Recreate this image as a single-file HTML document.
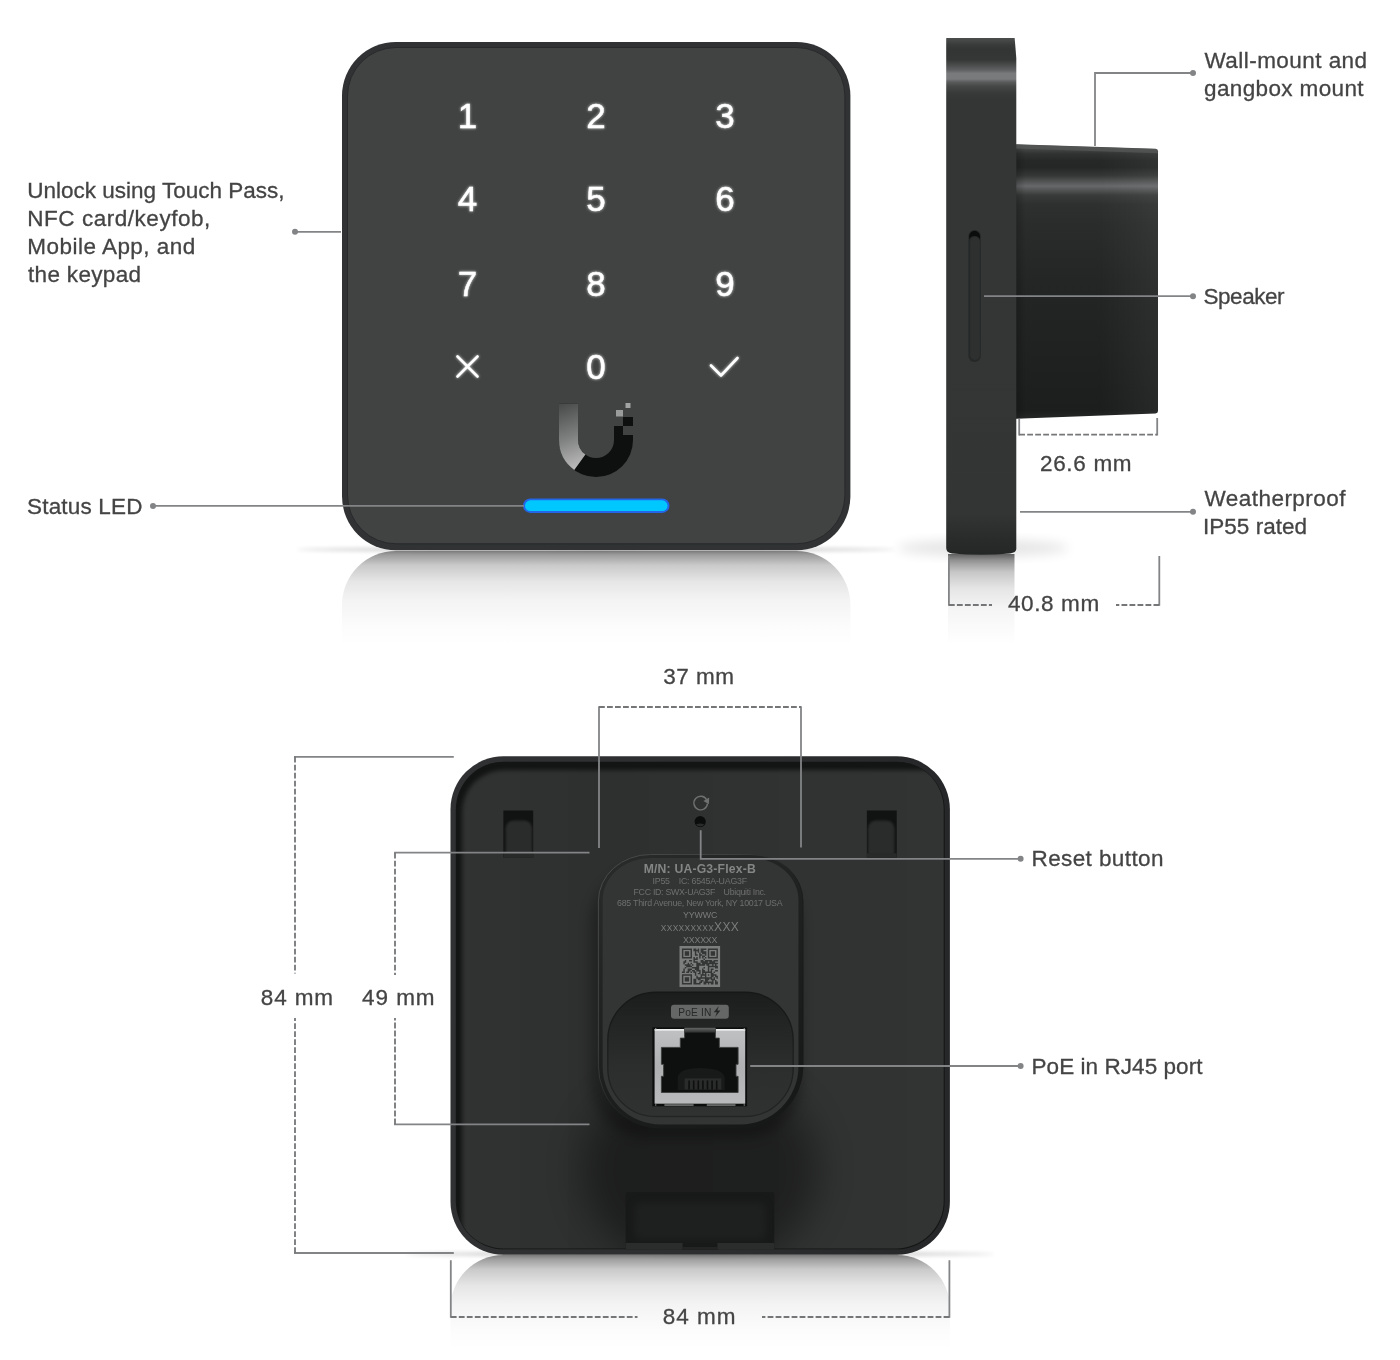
<!DOCTYPE html>
<html lang="en">
<head>
<meta charset="utf-8">
<title>Access Reader G3 Flex – Overview</title>
<style>
html,body{margin:0;padding:0;background:#fff;}
body{width:1400px;height:1360px;overflow:hidden;position:relative;}
svg{display:block;position:absolute;left:0;top:0;}
.t{font-family:"Liberation Sans",Arial,sans-serif;font-size:22.5px;fill:#444;stroke:#444;stroke-width:.3px;}
.d{font-family:"Liberation Sans",Arial,sans-serif;font-size:35px;fill:#fff;text-anchor:middle;stroke:#fff;stroke-width:.45px;}
.ln{stroke:#828486;stroke-width:1.8;fill:none;}
.ds{stroke:#747678;stroke-width:1.8;fill:none;stroke-dasharray:5.8 2.2;}
.dot{fill:#828486;}
.lb{font-family:"Liberation Sans",Arial,sans-serif;font-size:8.8px;fill:#6e6f6f;text-anchor:middle;}
</style>
</head>
<body>
<svg width="1400" height="1360" viewBox="0 0 1400 1360">
<defs>
<filter color-interpolation-filters="sRGB" id="b05" x="-10%" y="-50%" width="120%" height="200%"><feGaussianBlur stdDeviation=".7"/></filter>
<filter color-interpolation-filters="sRGB" id="b1" x="-20%" y="-50%" width="140%" height="200%"><feGaussianBlur stdDeviation="1"/></filter>
<filter color-interpolation-filters="sRGB" id="b2" x="-20%" y="-400%" width="140%" height="900%"><feGaussianBlur stdDeviation="2"/></filter>
<filter color-interpolation-filters="sRGB" id="b3" x="-30%" y="-30%" width="160%" height="160%"><feGaussianBlur stdDeviation="3"/></filter>
<filter color-interpolation-filters="sRGB" id="b6" x="-40%" y="-40%" width="180%" height="180%"><feGaussianBlur stdDeviation="6"/></filter>
<filter color-interpolation-filters="sRGB" id="b12" x="-50%" y="-50%" width="200%" height="200%"><feGaussianBlur stdDeviation="12"/></filter>
<filter color-interpolation-filters="sRGB" id="bp" x="-5%" y="-5%" width="110%" height="110%"><feGaussianBlur stdDeviation="2.2"/></filter>
<filter color-interpolation-filters="sRGB" id="b18" x="-60%" y="-60%" width="220%" height="220%"><feGaussianBlur stdDeviation="18"/></filter>
<filter color-interpolation-filters="sRGB" id="glow" x="-10%" y="-10%" width="120%" height="120%"><feGaussianBlur stdDeviation="1.6" result="g"/><feComponentTransfer in="g" result="g2"><feFuncA type="linear" slope=".75"/></feComponentTransfer><feMerge><feMergeNode in="g2"/><feMergeNode in="SourceGraphic"/></feMerge></filter>
<linearGradient id="reflF" gradientUnits="userSpaceOnUse" x1="0" y1="551" x2="0" y2="646">
<stop offset="0" stop-color="#000" stop-opacity=".46"/><stop offset=".05" stop-color="#000" stop-opacity=".37"/><stop offset=".15" stop-color="#000" stop-opacity=".21"/><stop offset=".32" stop-color="#000" stop-opacity=".1"/><stop offset=".52" stop-color="#000" stop-opacity=".045"/><stop offset=".8" stop-color="#000" stop-opacity=".012"/><stop offset="1" stop-color="#000" stop-opacity="0"/>
</linearGradient>
<linearGradient id="uarm" gradientUnits="userSpaceOnUse" x1="560" y1="405" x2="584" y2="466">
<stop offset="0" stop-color="#4a4b4b"/><stop offset=".5" stop-color="#7d7e7e"/><stop offset="1" stop-color="#bdbdbd"/>
</linearGradient>
<linearGradient id="reflS" gradientUnits="userSpaceOnUse" x1="0" y1="554" x2="0" y2="645">
<stop offset="0" stop-color="#000" stop-opacity=".6"/><stop offset=".07" stop-color="#000" stop-opacity=".42"/><stop offset=".2" stop-color="#000" stop-opacity=".22"/><stop offset=".38" stop-color="#000" stop-opacity=".1"/><stop offset=".6" stop-color="#000" stop-opacity=".04"/><stop offset="1" stop-color="#000" stop-opacity="0"/>
</linearGradient>
<linearGradient id="slabV" gradientUnits="userSpaceOnUse" x1="0" y1="38" x2="0" y2="555">
<stop offset="0" stop-color="#4c4e4e"/><stop offset=".006" stop-color="#444646"/><stop offset=".013" stop-color="#393b3b"/><stop offset=".022" stop-color="#333535"/><stop offset=".042" stop-color="#353737"/><stop offset=".054" stop-color="#4e5050"/><stop offset=".062" stop-color="#5e6062"/><stop offset=".0687" stop-color="#787a7c"/><stop offset=".0793" stop-color="#787a7c"/><stop offset=".085" stop-color="#5a5c5c"/><stop offset=".093" stop-color="#464848"/><stop offset=".106" stop-color="#383a3a"/><stop offset=".12" stop-color="#343636"/><stop offset=".5" stop-color="#343636"/><stop offset=".92" stop-color="#333535"/><stop offset=".96" stop-color="#2b2d2d"/><stop offset="1" stop-color="#252727"/>
</linearGradient>
<linearGradient id="mntV" gradientUnits="userSpaceOnUse" x1="0" y1="144" x2="0" y2="419">
<stop offset="0" stop-color="#525353"/><stop offset=".015" stop-color="#484949"/><stop offset=".035" stop-color="#313232"/><stop offset=".06" stop-color="#262727"/><stop offset=".085" stop-color="#252626"/><stop offset=".115" stop-color="#353636"/><stop offset=".135" stop-color="#505151"/><stop offset=".153" stop-color="#66686a"/><stop offset=".168" stop-color="#525353"/><stop offset=".186" stop-color="#393a3a"/><stop offset=".22" stop-color="#2e2f2f"/><stop offset=".3" stop-color="#2a2b2b"/><stop offset=".5" stop-color="#242525"/><stop offset=".8" stop-color="#1f2020"/><stop offset=".97" stop-color="#1c1d1d"/><stop offset="1" stop-color="#262727"/>
</linearGradient>
<linearGradient id="mntH" gradientUnits="userSpaceOnUse" x1="1014" y1="0" x2="1158" y2="0">
<stop offset="0" stop-color="#000" stop-opacity=".25"/><stop offset=".08" stop-color="#000" stop-opacity="0"/><stop offset=".6" stop-color="#fff" stop-opacity="0"/><stop offset="1" stop-color="#fff" stop-opacity=".05"/>
</linearGradient>
<linearGradient id="reflB" gradientUnits="userSpaceOnUse" x1="0" y1="1255" x2="0" y2="1350">
<stop offset="0" stop-color="#000" stop-opacity=".46"/><stop offset=".05" stop-color="#000" stop-opacity=".37"/><stop offset=".15" stop-color="#000" stop-opacity=".21"/><stop offset=".32" stop-color="#000" stop-opacity=".1"/><stop offset=".52" stop-color="#000" stop-opacity=".045"/><stop offset=".8" stop-color="#000" stop-opacity=".012"/><stop offset="1" stop-color="#000" stop-opacity="0"/>
</linearGradient>
<clipPath id="panelClip"><rect x="455.8" y="761.7" width="487.9" height="486.7" rx="47.5"/></clipPath>
<clipPath id="slotClipL"><rect x="503.4" y="810.5" width="29.8" height="47"/></clipPath>
<clipPath id="slotClipR"><rect x="866.9" y="810.5" width="29.8" height="47"/></clipPath>
<linearGradient id="rimH" gradientUnits="userSpaceOnUse" x1="450" y1="0" x2="950" y2="0"><stop offset="0" stop-color="#303132"/><stop offset=".5" stop-color="#2d2e2f"/><stop offset="1" stop-color="#262728"/></linearGradient>
<linearGradient id="panelH" gradientUnits="userSpaceOnUse" x1="455" y1="0" x2="945" y2="0">
<stop offset="0" stop-color="#313232"/><stop offset=".3" stop-color="#2e2f2f"/><stop offset=".7" stop-color="#313232"/><stop offset="1" stop-color="#323333"/>
</linearGradient>
<linearGradient id="modRim" gradientUnits="userSpaceOnUse" x1="598" y1="854" x2="803" y2="1000">
<stop offset="0" stop-color="#4a4b4b"/><stop offset=".45" stop-color="#3c3d3d"/><stop offset=".7" stop-color="#1c1d1d"/><stop offset="1" stop-color="#171818"/>
</linearGradient>
<linearGradient id="modBand" gradientUnits="userSpaceOnUse" x1="610" y1="860" x2="790" y2="1120">
<stop offset="0" stop-color="#292a2a"/><stop offset=".45" stop-color="#1f2020"/><stop offset="1" stop-color="#161717"/>
</linearGradient>
<linearGradient id="recG" gradientUnits="userSpaceOnUse" x1="0" y1="992" x2="0" y2="1117">
<stop offset="0" stop-color="#1b1c1c"/><stop offset=".25" stop-color="#232424"/><stop offset=".6" stop-color="#2c2d2d"/><stop offset="1" stop-color="#303131"/>
</linearGradient>
<linearGradient id="recRim" gradientUnits="userSpaceOnUse" x1="0" y1="992" x2="0" y2="1117">
<stop offset="0" stop-color="#161717"/><stop offset=".6" stop-color="#1e1f1f"/><stop offset="1" stop-color="#232424"/>
</linearGradient>
<linearGradient id="rjTab" gradientUnits="userSpaceOnUse" x1="0" y1="1028" x2="0" y2="1032.6"><stop offset="0" stop-color="#626363"/><stop offset="1" stop-color="#2e2f2f"/></linearGradient>
<linearGradient id="rjSilver" gradientUnits="userSpaceOnUse" x1="0" y1="1028" x2="0" y2="1106">
<stop offset="0" stop-color="#bfc1c2"/><stop offset=".5" stop-color="#aeb0b1"/><stop offset="1" stop-color="#b9bbbc"/>
</linearGradient>

</defs>
<!-- ========== FRONT VIEW ========== -->
<g id="front">
<ellipse cx="596" cy="549.5" rx="300" ry="1.4" fill="#000" opacity=".32" filter="url(#b2)"/>
<rect x="342" y="551" width="508.4" height="160" rx="54" fill="url(#reflF)"/>
<rect x="342" y="42" width="508.4" height="508.3" rx="54" fill="#303233"/>
<rect x="347.5" y="47.5" width="497.4" height="496.3" rx="48.5" fill="#414343" stroke="#27292a" stroke-width="1"/>
<g filter="url(#glow)">
<text class="d" x="467.5" y="127.5">1</text>
<text class="d" x="596" y="127.5">2</text>
<text class="d" x="725" y="127.5">3</text>
<text class="d" x="467.5" y="211">4</text>
<text class="d" x="596" y="211">5</text>
<text class="d" x="725" y="211">6</text>
<text class="d" x="467.5" y="296">7</text>
<text class="d" x="596" y="296">8</text>
<text class="d" x="725" y="296">9</text>
<text class="d" x="596" y="379">0</text>
<path d="M457.5 356.5 L477.5 376.5 M477.5 356.5 L457.5 376.5" stroke="#fff" stroke-width="2.7" stroke-linecap="round" fill="none"/>
<path d="M711 365.5 L721 375.5 L737.5 358" stroke="#fff" stroke-width="2.7" stroke-linecap="round" stroke-linejoin="round" fill="none"/>
</g>
<!-- logo -->
<path d="M559 403.5 V440 A37 37 0 0 0 633 440 V435 H623 V426 H614 V440 A18 18 0 0 1 578 440 V403.5 Z" fill="#0e0f0f"/>
<path d="M559 403.5 V440 A37 37 0 0 0 574.25 469.9 L585.4 454.6 A18 18 0 0 1 578 440 V403.5 Z" fill="url(#uarm)"/>
<rect x="623" y="417" width="10" height="9" fill="#0e0f0f"/>
<rect x="616" y="410" width="7" height="6.5" fill="#9a9b9b"/>
<rect x="625.5" y="403" width="5" height="5" fill="#a2a3a3"/>
<!-- LED -->
<rect x="523" y="498.4" width="146.5" height="14.6" rx="7.3" fill="#2466e8" filter="url(#b05)"/>
<rect x="525" y="500.3" width="142.5" height="10.8" rx="5.4" fill="#00c8ff"/>
</g>

<!-- ========== SIDE VIEW ========== -->
<g id="side">
<ellipse cx="983" cy="548" rx="86" ry="8" fill="#000" opacity=".1" filter="url(#b6)"/>
<rect x="948" y="554" width="66.5" height="100" fill="url(#reflS)"/>
<!-- mount block -->
<path d="M1014 144.3 L1155.5 148.8 Q1158 149 1158 151.5 V411 Q1158 413.3 1155.5 413.5 L1014 418.8 Z" fill="url(#mntV)"/>
<path d="M1014 144.3 L1155.5 148.8 Q1158 149 1158 151.5 V411 Q1158 413.3 1155.5 413.5 L1014 418.8 Z" fill="url(#mntH)"/>
<path d="M1015 144.4 L1155.5 148.9 Q1157.8 149.1 1157.9 151 L1157.9 153.2 L1015 148.4 Z" fill="#555656" opacity=".75" filter="url(#b05)"/>
<!-- slab -->
<path d="M946.2 38.6 Q946.2 38 946.8 38 H1014 Q1014.6 38 1014.7 38.6 L1016.3 58 V549 Q1016.3 552.5 1010 553.5 Q981 556 952 553.5 Q946.2 552.5 946.2 548 Z" fill="url(#slabV)"/>
<!-- speaker slot -->
<rect x="968.4" y="230" width="12.4" height="132" rx="6.2" fill="#262828"/>
<rect x="970.2" y="237" width="9.6" height="123" rx="4.8" fill="#2e3030"/>
<path d="M969.2 240 V236.2 A5.4 5.4 0 0 1 980 236.2 V240 A5.4 4 0 0 0 969.2 240 Z" fill="#0b0c0c"/>
</g>

<!-- ========== BACK VIEW ========== -->
<g id="back">
<ellipse cx="700" cy="1254" rx="295" ry="1.4" fill="#000" opacity=".32" filter="url(#b2)"/>
<rect x="450.5" y="1255" width="499.4" height="160" rx="53" fill="url(#reflB)"/>
<rect x="450.5" y="756.3" width="499.4" height="498.4" rx="53" fill="url(#rimH)"/>
<rect x="455.8" y="761.7" width="488.8" height="487.6" rx="48" fill="#131414"/>
<g clip-path="url(#panelClip)">
<rect x="462" y="770" width="520" height="520" rx="42" fill="url(#panelH)" filter="url(#bp)"/>
<!-- shadows cast by the centre module -->
<rect x="590" y="866" width="212" height="272" rx="58" fill="#000" opacity=".27" filter="url(#b6)"/>
<ellipse cx="700" cy="1170" rx="118" ry="100" fill="#000" opacity=".36" filter="url(#b18)"/>
</g>
<!-- mounting slots -->
<g id="slotL">
<rect x="503.4" y="810.5" width="29.8" height="47" fill="#111212"/>
<rect x="505.6" y="820.5" width="26.6" height="40" rx="8" fill="#2a2b2b" filter="url(#b1)" clip-path="url(#slotClipL)"/>
<rect x="503.4" y="853.2" width="29.8" height="4.6" fill="#282929"/>
</g>
<g id="slotR">
<rect x="866.9" y="810.5" width="29.8" height="47" fill="#111212"/>
<rect x="867.9" y="820.5" width="26.6" height="40" rx="8" fill="#2a2b2b" filter="url(#b1)" clip-path="url(#slotClipR)"/>
<rect x="866.9" y="853.2" width="29.8" height="4.6" fill="#282929"/>
</g>
<!-- cable slot -->
<path d="M625.7 1249.7 V1195 Q625.7 1192 628.7 1192 H771.3 Q774.3 1192 774.3 1195 V1249.7 Z" fill="#181919"/>
<rect x="634" y="1202" width="132" height="38" rx="6" fill="#1e1f1f" filter="url(#b3)"/>
<rect x="625.7" y="1243" width="56.9" height="6.8" fill="#2b2c2c"/>
<rect x="717.4" y="1243" width="56.9" height="6.8" fill="#2b2c2c"/>
<rect x="682.6" y="1247" width="34.8" height="2.8" fill="#232424"/>
<!-- centre module -->
<path d="M598.4 901 A52 46.5 0 0 1 650.4 854.5 H751 A52 46.5 0 0 1 803 901 V1066 A62 62 0 0 1 741 1128 H660.4 A62 62 0 0 1 598.4 1066 Z" fill="url(#modBand)" stroke="url(#modRim)" stroke-width="1"/>
<path id="modp" d="M602.6 900 A48 42 0 0 1 650.6 858 H750.5 A48 42 0 0 1 798.5 900 V1066.4 A58 58 0 0 1 740.5 1124.4 H660.6 A58 58 0 0 1 602.6 1066.4 Z" fill="#333434"/>
<!-- reset -->
<path d="M706.6 799.6 A6.8 6.8 0 1 0 707.5 803.6" stroke="#6f7070" stroke-width="1.4" fill="none"/>
<path d="M703.4 800.9 L709.2 797.6 L708.9 804.2 Z" fill="#6f7070"/>
<circle cx="700.2" cy="821.6" r="5.6" fill="#0b0c0c"/>
<path d="M696 824.6 A5.6 5.6 0 0 0 704.4 824.6 A6 3 0 0 0 696 824.6 Z" fill="#2a2b2b"/>
<!-- recess -->
<path d="M607.8 1040 A48 47.7 0 0 1 655.8 992.3 H745.2 A48 47.7 0 0 1 793.2 1040 V1068.5 A48 48 0 0 1 745.2 1116.5 H655.8 A48 48 0 0 1 607.8 1068.5 Z" fill="url(#recG)" stroke="url(#recRim)" stroke-width="1.4"/>
<!-- QR code -->
<rect x="679.5" y="946" width="40.6" height="41" fill="#7c7e7e"/>
<path d="M681.90 948.40h10.08v1.49h-10.08zM693.42 948.40h2.88v1.49h-2.88zM697.74 948.40h1.44v1.49h-1.44zM700.62 948.40h5.76v1.49h-5.76zM707.82 948.40h10.08v1.49h-10.08zM681.90 949.84h1.44v1.49h-1.44zM690.54 949.84h1.44v1.49h-1.44zM693.42 949.84h5.76v1.49h-5.76zM700.62 949.84h2.88v1.49h-2.88zM707.82 949.84h1.44v1.49h-1.44zM716.46 949.84h1.44v1.49h-1.44zM681.90 951.28h1.44v1.49h-1.44zM684.78 951.28h4.32v1.49h-4.32zM690.54 951.28h1.44v1.49h-1.44zM694.86 951.28h1.44v1.49h-1.44zM697.74 951.28h1.44v1.49h-1.44zM700.62 951.28h5.76v1.49h-5.76zM707.82 951.28h1.44v1.49h-1.44zM710.70 951.28h4.32v1.49h-4.32zM716.46 951.28h1.44v1.49h-1.44zM681.90 952.72h1.44v1.49h-1.44zM684.78 952.72h4.32v1.49h-4.32zM690.54 952.72h1.44v1.49h-1.44zM694.86 952.72h1.44v1.49h-1.44zM699.18 952.72h1.44v1.49h-1.44zM702.06 952.72h4.32v1.49h-4.32zM707.82 952.72h1.44v1.49h-1.44zM710.70 952.72h4.32v1.49h-4.32zM716.46 952.72h1.44v1.49h-1.44zM681.90 954.16h1.44v1.49h-1.44zM684.78 954.16h4.32v1.49h-4.32zM690.54 954.16h1.44v1.49h-1.44zM694.86 954.16h2.88v1.49h-2.88zM699.18 954.16h2.88v1.49h-2.88zM704.94 954.16h1.44v1.49h-1.44zM707.82 954.16h1.44v1.49h-1.44zM710.70 954.16h4.32v1.49h-4.32zM716.46 954.16h1.44v1.49h-1.44zM681.90 955.60h1.44v1.49h-1.44zM690.54 955.60h1.44v1.49h-1.44zM699.18 955.60h1.44v1.49h-1.44zM702.06 955.60h2.88v1.49h-2.88zM707.82 955.60h1.44v1.49h-1.44zM716.46 955.60h1.44v1.49h-1.44zM681.90 957.04h10.08v1.49h-10.08zM693.42 957.04h1.44v1.49h-1.44zM696.30 957.04h1.44v1.49h-1.44zM699.18 957.04h1.44v1.49h-1.44zM702.06 957.04h1.44v1.49h-1.44zM704.94 957.04h1.44v1.49h-1.44zM707.82 957.04h10.08v1.49h-10.08zM693.42 958.48h4.32v1.49h-4.32zM703.50 958.48h1.44v1.49h-1.44zM684.78 959.92h1.44v1.49h-1.44zM689.10 959.92h2.88v1.49h-2.88zM693.42 959.92h1.44v1.49h-1.44zM700.62 959.92h2.88v1.49h-2.88zM704.94 959.92h7.20v1.49h-7.20zM713.58 959.92h4.32v1.49h-4.32zM683.34 961.36h2.88v1.49h-2.88zM693.42 961.36h4.32v1.49h-4.32zM700.62 961.36h7.20v1.49h-7.20zM709.26 961.36h5.76v1.49h-5.76zM683.34 962.80h1.44v1.49h-1.44zM687.66 962.80h1.44v1.49h-1.44zM690.54 962.80h1.44v1.49h-1.44zM696.30 962.80h4.32v1.49h-4.32zM702.06 962.80h15.84v1.49h-15.84zM684.78 964.24h5.76v1.49h-5.76zM691.98 964.24h1.44v1.49h-1.44zM696.30 964.24h8.64v1.49h-8.64zM706.38 964.24h2.88v1.49h-2.88zM712.14 964.24h1.44v1.49h-1.44zM715.02 964.24h1.44v1.49h-1.44zM686.22 965.68h5.76v1.49h-5.76zM696.30 965.68h2.88v1.49h-2.88zM707.82 965.68h10.08v1.49h-10.08zM684.78 967.12h1.44v1.49h-1.44zM691.98 967.12h7.20v1.49h-7.20zM703.50 967.12h1.44v1.49h-1.44zM707.82 967.12h1.44v1.49h-1.44zM715.02 967.12h2.88v1.49h-2.88zM683.34 968.56h1.44v1.49h-1.44zM687.66 968.56h4.32v1.49h-4.32zM694.86 968.56h4.32v1.49h-4.32zM702.06 968.56h1.44v1.49h-1.44zM707.82 968.56h1.44v1.49h-1.44zM710.70 968.56h2.88v1.49h-2.88zM683.34 970.00h1.44v1.49h-1.44zM687.66 970.00h2.88v1.49h-2.88zM691.98 970.00h2.88v1.49h-2.88zM696.30 970.00h4.32v1.49h-4.32zM702.06 970.00h2.88v1.49h-2.88zM707.82 970.00h1.44v1.49h-1.44zM710.70 970.00h1.44v1.49h-1.44zM715.02 970.00h2.88v1.49h-2.88zM681.90 971.44h2.88v1.49h-2.88zM686.22 971.44h2.88v1.49h-2.88zM690.54 971.44h1.44v1.49h-1.44zM693.42 971.44h2.88v1.49h-2.88zM699.18 971.44h1.44v1.49h-1.44zM702.06 971.44h10.08v1.49h-10.08zM713.58 971.44h1.44v1.49h-1.44zM694.86 972.88h1.44v1.49h-1.44zM697.74 972.88h2.88v1.49h-2.88zM702.06 972.88h1.44v1.49h-1.44zM704.94 972.88h1.44v1.49h-1.44zM710.70 972.88h2.88v1.49h-2.88zM681.90 974.32h10.08v1.49h-10.08zM694.86 974.32h1.44v1.49h-1.44zM700.62 974.32h5.76v1.49h-5.76zM707.82 974.32h1.44v1.49h-1.44zM710.70 974.32h5.76v1.49h-5.76zM681.90 975.76h1.44v1.49h-1.44zM690.54 975.76h1.44v1.49h-1.44zM696.30 975.76h1.44v1.49h-1.44zM700.62 975.76h1.44v1.49h-1.44zM704.94 975.76h1.44v1.49h-1.44zM710.70 975.76h2.88v1.49h-2.88zM715.02 975.76h2.88v1.49h-2.88zM681.90 977.20h1.44v1.49h-1.44zM684.78 977.20h4.32v1.49h-4.32zM690.54 977.20h1.44v1.49h-1.44zM696.30 977.20h15.84v1.49h-15.84zM713.58 977.20h1.44v1.49h-1.44zM716.46 977.20h1.44v1.49h-1.44zM681.90 978.64h1.44v1.49h-1.44zM684.78 978.64h4.32v1.49h-4.32zM690.54 978.64h1.44v1.49h-1.44zM693.42 978.64h2.88v1.49h-2.88zM697.74 978.64h2.88v1.49h-2.88zM704.94 978.64h4.32v1.49h-4.32zM710.70 978.64h4.32v1.49h-4.32zM681.90 980.08h1.44v1.49h-1.44zM684.78 980.08h4.32v1.49h-4.32zM690.54 980.08h1.44v1.49h-1.44zM693.42 980.08h2.88v1.49h-2.88zM700.62 980.08h2.88v1.49h-2.88zM704.94 980.08h2.88v1.49h-2.88zM712.14 980.08h1.44v1.49h-1.44zM715.02 980.08h1.44v1.49h-1.44zM681.90 981.52h1.44v1.49h-1.44zM690.54 981.52h1.44v1.49h-1.44zM693.42 981.52h2.88v1.49h-2.88zM699.18 981.52h2.88v1.49h-2.88zM703.50 981.52h10.08v1.49h-10.08zM715.02 981.52h2.88v1.49h-2.88zM681.90 982.96h10.08v1.49h-10.08zM693.42 982.96h7.20v1.49h-7.20zM703.50 982.96h2.88v1.49h-2.88zM707.82 982.96h1.44v1.49h-1.44zM710.70 982.96h2.88v1.49h-2.88zM715.02 982.96h2.88v1.49h-2.88z" fill="#343535"/>
<!-- PoE pill -->
<rect x="671" y="1004.8" width="57.8" height="13.9" rx="3" fill="#656666"/>
<path d="M718.8 1006 L713.8 1012.2 H716.9 L715.2 1016.9 L720.4 1010.4 H717.3 Z" fill="#262727"/>
<!-- RJ45 -->
<rect x="652.4" y="1027.4" width="94.7" height="78.9" fill="#0c0d0d"/>
<rect x="654.6" y="1029.1" width="90.6" height="74.6" fill="url(#rjSilver)"/>
<rect x="654.6" y="1029.1" width="90.6" height="1.5" fill="#f4f5f5"/>
<path d="M661.4 1047.4 H680.3 V1038.1 H684.6 V1027.9 H715.4 V1038.1 H719.3 V1047.4 H738.1 V1064.3 H736 V1076.3 H738.1 V1092.5 H661.4 V1076.3 H663.6 V1064.3 H661.4 Z" fill="#0e0f0f" stroke="#3c3d3d" stroke-width=".9"/>
<rect x="684.6" y="1027.9" width="30.8" height="4.7" fill="url(#rjTab)"/>
<path d="M677.7 1090 V1078 Q678.5 1068 700 1068 Q723.5 1068 724.8 1078 V1090 Z" fill="#181919"/>
<rect x="684.6" y="1078.4" width="36.8" height="11.1" fill="#2a2b2b"/>
<path d="M688.3 1080.4v9.1h1.6v-9.1z M692.9 1080.4v9.1h1.6v-9.1z M697.5 1080.4v9.1h1.6v-9.1z M702.1 1080.4v9.1h1.6v-9.1z M706.7 1080.4v9.1h1.6v-9.1z M711.3 1080.4v9.1h1.6v-9.1z M715.9 1080.4v9.1h1.6v-9.1z" fill="#0e0f0f"/>
<rect x="664.4" y="1104.4" width="29.2" height="1.3" fill="#8d8f8f"/>
<rect x="706.8" y="1104.4" width="28.7" height="1.3" fill="#8d8f8f"/>
<path d="M655 1028.2h1.4v1.2h-1.4z M743.6 1028.2h1.4v1.2h-1.4z M655 1104.4h1.4v1.2h-1.4z M743.6 1104.4h1.4v1.2h-1.4z" fill="#9a9c9c"/>
</g>

<!-- ========== LEADERS & DIMENSIONS ========== -->
<g id="lines">
<path class="ln" d="M295 231.8 H341"/><circle class="dot" cx="295" cy="231.8" r="3"/>
<path class="ln" d="M153 505.9 H524"/><circle class="dot" cx="153" cy="505.9" r="3"/>
<path class="ln" d="M1095 146 V73 H1193"/><circle class="dot" cx="1193" cy="73" r="3"/>
<path class="ln" d="M984 296.2 H1193"/><circle class="dot" cx="1193" cy="296.2" r="3"/>
<path class="ln" d="M1020 511.8 H1193"/><circle class="dot" cx="1193" cy="511.8" r="3"/>
<path class="ln" d="M1019.2 419 V435.5 M1157.2 418 V435.5"/><path class="ds" d="M1019.2 434.7 H1157.2"/>
<path class="ln" d="M948.9 555.7 V605.8 M1159.3 556 V605.8"/><path class="ds" d="M948.9 605 H992 M1159.3 605 H1116"/>
<path class="ln" d="M599 848 V706.2 M801 847.5 V706.2"/><path class="ds" d="M599 707 H801"/>
<path class="ln" d="M453.8 756.8 H294 M453.8 1253 H294"/><path class="ds" d="M295 756.8 V973.5 M295 1253 V1018"/>
<path class="ln" d="M589.5 852.7 H394.1 M589.5 1124.4 H394.1"/><path class="ds" d="M395 852.7 V975 M395 1124.4 V1018"/>
<path class="ln" d="M700.7 830.3 V858.8 H1020"/><circle class="dot" cx="1020.6" cy="858.8" r="3"/>
<path class="ln" d="M750.2 1066 H1020"/><circle class="dot" cx="1020.6" cy="1066" r="3"/>
<path class="ln" d="M450.8 1260.3 V1317.8 M949.4 1260.3 V1317.8"/><path class="ds" d="M450.8 1317 H637.5 M949.4 1317 H762"/>
</g>

<!-- ========== TEXT ========== -->
<g id="labels" style="opacity:.999">
<text class="t" x="27.3" y="197.8" textLength="257.2" lengthAdjust="spacing">Unlock using Touch Pass,</text>
<text class="t" x="27.3" y="225.8" textLength="183" lengthAdjust="spacing">NFC card/keyfob,</text>
<text class="t" x="27.3" y="253.8" textLength="168" lengthAdjust="spacing">Mobile App, and</text>
<text class="t" x="28" y="281.6" textLength="113" lengthAdjust="spacing">the keypad</text>
<text class="t" x="27" y="514" textLength="115.5" lengthAdjust="spacing">Status LED</text>
<text class="t" x="1204.5" y="67.5" textLength="162.6" lengthAdjust="spacing">Wall-mount and</text>
<text class="t" x="1204" y="95.5" textLength="159.6" lengthAdjust="spacing">gangbox mount</text>
<text class="t" x="1203.5" y="303.5" textLength="81" lengthAdjust="spacing">Speaker</text>
<text class="t" x="1204.5" y="505.5" textLength="141" lengthAdjust="spacing">Weatherproof</text>
<text class="t" x="1203" y="533.5" textLength="104" lengthAdjust="spacing">IP55 rated</text>
<text class="t" x="1031.5" y="865.8" textLength="132" lengthAdjust="spacing">Reset button</text>
<text class="t" x="1031.5" y="1073.6" textLength="171" lengthAdjust="spacing">PoE in RJ45 port</text>
<text class="t" x="1040" y="470.7" textLength="91.6" lengthAdjust="spacing">26.6 mm</text>
<text class="t" x="1008" y="611.4" textLength="91.2" lengthAdjust="spacing">40.8 mm</text>
<text class="t" x="663.2" y="684.3" textLength="70.9" lengthAdjust="spacing">37 mm</text>
<text class="t" x="260.8" y="1005.3" textLength="72.2" lengthAdjust="spacing">84 mm</text>
<text class="t" x="362" y="1005.3" textLength="72.6" lengthAdjust="spacing">49 mm</text>
<text class="t" x="662.8" y="1324" textLength="72.8" lengthAdjust="spacing">84 mm</text>
</g>
<g id="regulatory" style="opacity:.999">
<text x="699.7" y="873" textLength="112" lengthAdjust="spacing" style="font-family:'Liberation Sans',Arial,sans-serif;font-weight:bold;font-size:12.2px;fill:#848585;text-anchor:middle">M/N: UA-G3-Flex-B</text>
<text class="lb" x="699.8" y="883.7" textLength="94.5" lengthAdjust="spacing" xml:space="preserve">IP55    IC: 6545A-UAG3F</text>
<text class="lb" x="699.8" y="894.7" textLength="132.5" lengthAdjust="spacing" xml:space="preserve">FCC ID: SWX-UAG3F    Ubiquiti Inc.</text>
<text class="lb" x="699.8" y="906" textLength="165.5" lengthAdjust="spacing">685 Third Avenue, New York, NY 10017 USA</text>
<text class="lb" x="700.2" y="918.2" textLength="34.5" lengthAdjust="spacing" style="fill:#7b7c7c">YYWWC</text>
<text class="lb" x="699.8" y="930.7" textLength="78" lengthAdjust="spacing" style="fill:#7b7c7c"><tspan style="font-size:8.4px">XXXXXXXXX</tspan><tspan style="font-size:12px">XXX</tspan></text>
<text class="lb" x="700.2" y="942.5" textLength="34.5" lengthAdjust="spacing" style="fill:#7b7c7c">XXXXXX</text>
<text x="678.3" y="1015.6" textLength="33" lengthAdjust="spacing" style="font-family:'Liberation Sans',Arial,sans-serif;font-size:10.2px;fill:#272828">PoE IN</text>
</g>

</svg>
</body>
</html>
